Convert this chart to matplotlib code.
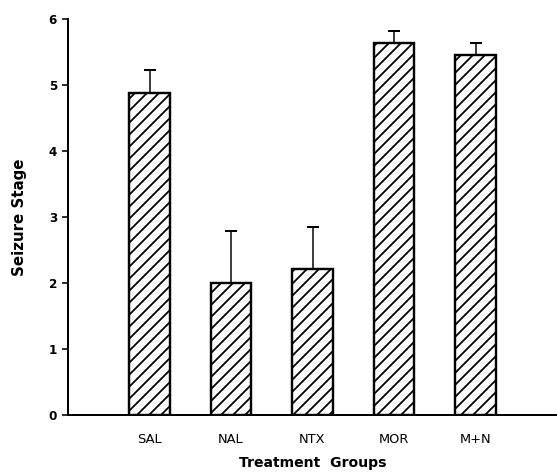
import matplotlib
matplotlib.use('Agg')
from matplotlib import pyplot as plt

# data
groups = ['SAL', 'NAL', 'NTX', 'MOR', 'M+N']
means = [4.88, 2.00, 2.21, 5.64, 5.45]
sem = [0.35, 0.79, 0.64, 0.18, 0.18]

plt.rcParams['hatch.linewidth'] = 1.8
plt.rcParams['font.family'] = 'DejaVu Sans'

fig = plt.figure(figsize=(557 / 72, 475 / 72), dpi=72)
ax = fig.add_axes([68 / 557, 60 / 475, 489 / 557, 396 / 475])

x = list(range(1, len(groups) + 1))
ax.bar(x, means, width=0.5, color='white', edgecolor='black',
       linewidth=2.4, hatch='//', zorder=2)
ax.errorbar(x, means, yerr=[[0] * len(sem), sem], fmt='none',
            ecolor='black', elinewidth=1.5, capsize=6, capthick=2, zorder=1)

ax.set_xlim(0, 6)
ax.set_ylim(0, 6)
ax.set_xticks(x)
ax.set_xticklabels(groups, fontsize=13)
ax.set_yticks(range(0, 7))
ax.tick_params(axis='y', length=6, width=1.6, labelsize=12, pad=5)
ax.tick_params(axis='x', length=0, pad=18)
for lab in ax.get_yticklabels():
    lab.set_fontweight('bold')

for side in ['top', 'right']:
    ax.spines[side].set_visible(False)
for side in ['left', 'bottom']:
    ax.spines[side].set_linewidth(2)

ax.set_ylabel('Seizure Stage', fontsize=15, fontweight='bold', labelpad=22)
ax.set_xlabel('Treatment  Groups', fontsize=14, fontweight='bold', labelpad=10)

fig.savefig('out.png', dpi=72)
